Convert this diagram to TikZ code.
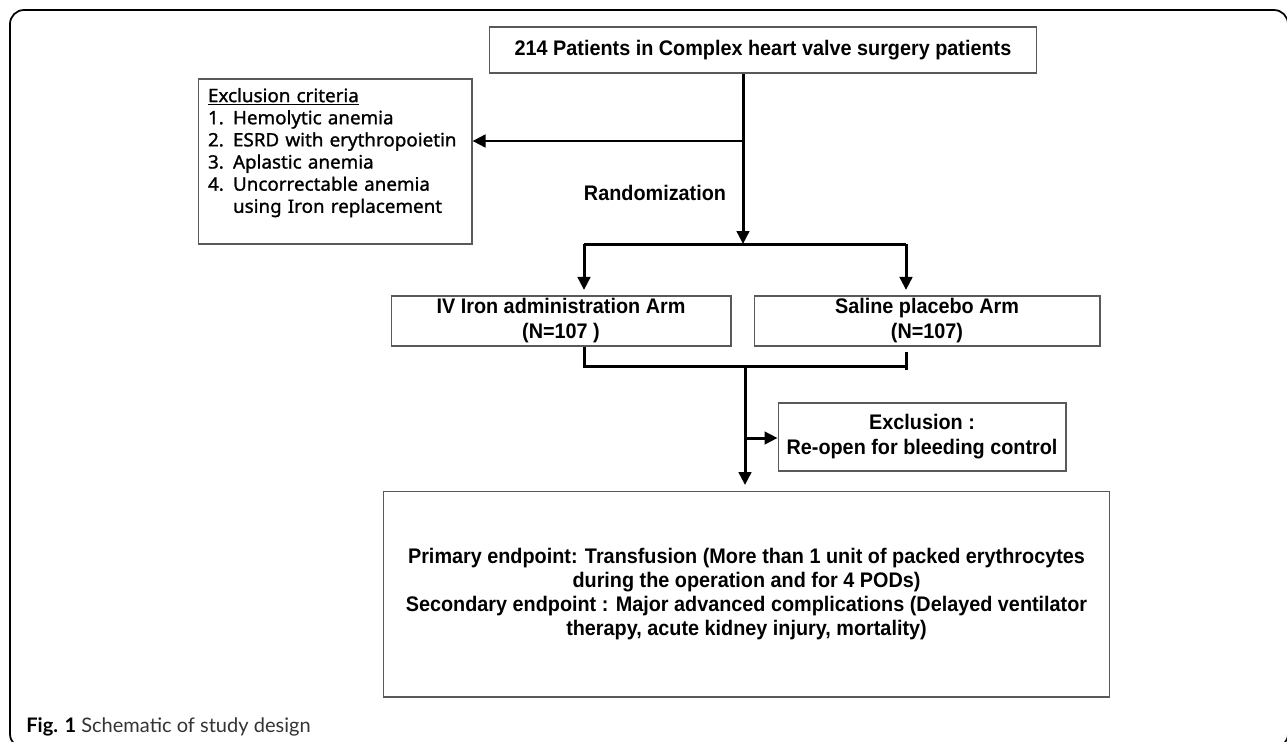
\documentclass[tikz,border=0pt]{standalone}
\usepackage{fontspec}
\setmainfont{Liberation Sans}
\newfontfamily\flowfont[FakeStretch=0.94]{Liberation Sans}
\newfontfamily\critfont[FakeStretch=1.02, FakeBold=1.2]{Noto Sans}
\newfontfamily\capfont{Lato}
\usetikzlibrary{calc, positioning, arrows.meta}
\hyphenpenalty=10000

\begin{document}
\begin{tikzpicture}[
  x=0.02cm, y=-0.02cm,
  arrow/.style={-{Triangle[length=2.6mm, width=2.5mm]}, line width=1.7pt},
  link/.style={line width=1.7pt},
  box/.style={draw=black!65, line width=0.6pt, align=center, inner sep=0pt,
              font=\flowfont\bfseries\fontsize{12}{14.2}\selectfont},
  critbox/.style={draw=black!65, line width=0.6pt, align=left,
                  text width=5.08cm, inner xsep=0.2cm, minimum height=3.3cm,
                  font=\critfont\fontsize{10.5}{12.6}\selectfont}
]
\useasboundingbox (0,0) rectangle (1287,741);

% --- outer frame ---
\draw[line width=1pt, rounded corners=8pt] (10,10) rectangle (1288,748);

% --- boxes ---
\node[box, minimum width=10.96cm, minimum height=0.92cm] (top) at (763,50)
  {214 Patients in Complex heart valve surgery patients};
\node[critbox] (crit) at (335,161.5)
  {\underline{Exclusion criteria}\\
   \makebox[0.5cm][l]{1.}Hemolytic anemia\\
   \makebox[0.5cm][l]{2.}ESRD with erythropoietin\\
   \makebox[0.5cm][l]{3.}Aplastic anemia\\
   \makebox[0.5cm][l]{4.}Uncorrectable anemia\\
   \makebox[0.5cm][l]{}using Iron replacement\\
   \mbox{}};
\node[font=\flowfont\bfseries\fontsize{12}{14.2}\selectfont] (rand) at (655,193) {Randomization};
\node[box, minimum width=6.8cm, minimum height=1cm] (ivarm) at (561,321)
  {IV Iron administration Arm\\(N=107 )};
\node[box, minimum width=6.92cm, minimum height=1cm] (salarm) at (927,321)
  {Saline placebo Arm\\(N=107)};
\node[box, minimum width=5.76cm, minimum height=1.36cm] (reopen) at (922,437)
  {Exclusion :\\Re-open for bleeding control};
\node[box, minimum width=14.54cm, minimum height=4.12cm,
      font=\flowfont\bfseries\fontsize{12}{13.7}\selectfont] (endpt) at (746.5,594)
  {Primary endpoint: Transfusion (More than 1 unit of packed erythrocytes\\
   during the operation and for 4 PODs)\\
   Secondary endpoint : Major advanced complications (Delayed ventilator\\
   therapy, acute kidney injury, mortality)};

% --- junction points ---
\coordinate (excl) at (743,141);
\coordinate (split) at (743,244);
\coordinate (splitL) at (584,244);
\coordinate (splitR) at (906,244);
\coordinate (mergeL) at (584,366);
\coordinate (merge) at (745,366);
\coordinate (mergeR) at (906,366);
\coordinate (side) at (745,438);

% --- connectors ---
\draw[arrow] (split |- top.south) -- (split);
\draw[arrow] (excl) -- (excl -| crit.east);
\draw[link] (splitL) -- (splitR);
\draw[arrow, shorten >=1.1mm] (splitL) -- (splitL |- ivarm.north);
\draw[arrow, shorten >=1.1mm] (splitR) -- (splitR |- salarm.north);
\draw[link] (mergeL |- ivarm.south) -- (mergeL) -- (mergeR);
\draw[link] ($(mergeR)+(0,-14)$) -- ($(mergeR)+(0,4)$);
\draw[arrow, shorten >=1.1mm] (merge) -- (merge |- endpt.north);
\draw[arrow] (side) -- (side -| reopen.west);

% --- caption ---
\node[anchor=west, inner sep=0pt, font=\capfont\fontsize{11.4}{13}\selectfont] (caption) at (26,727)
  {\textbf{Fig. 1} \textcolor{black!80}{Schematic of study design}};

\end{tikzpicture}
\end{document}
